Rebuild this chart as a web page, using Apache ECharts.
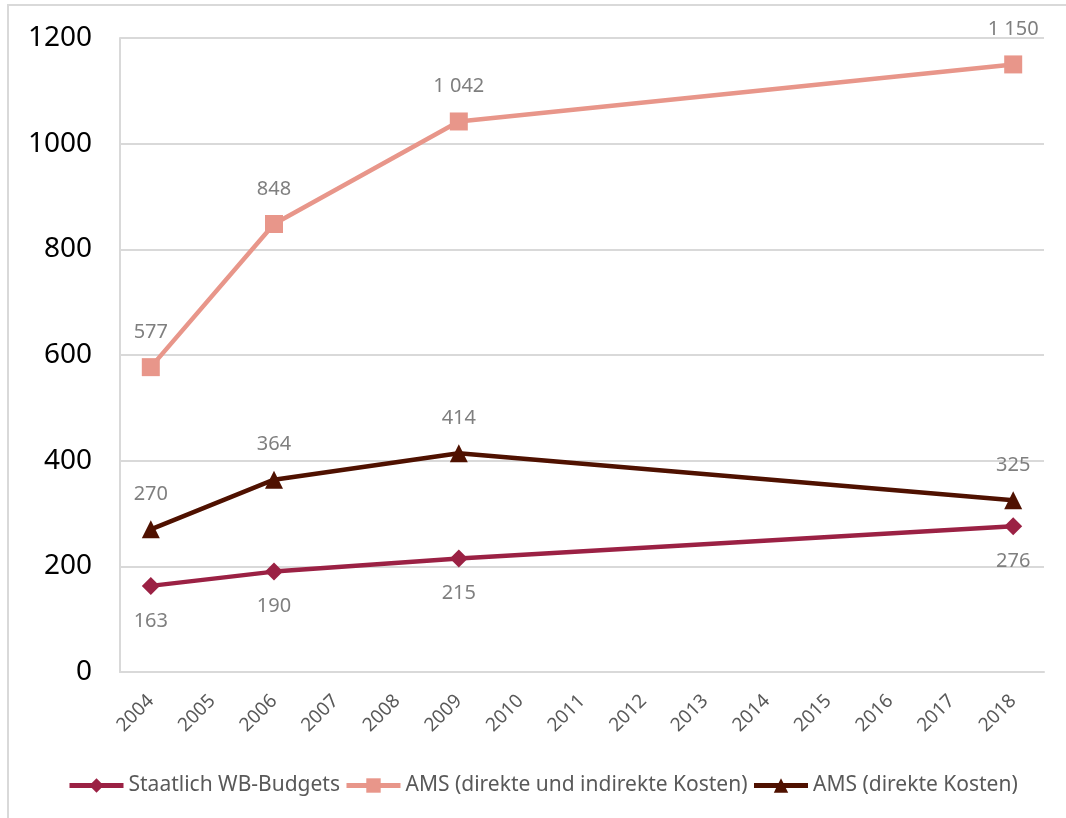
<!DOCTYPE html>
<html>
<head>
<meta charset="utf-8">
<script src="https://cdn.jsdelivr.net/npm/echarts@6/dist/echarts.min.js"></script>
<style>html,body{margin:0;padding:0;background:#fff}#c{width:1066px;height:818px}</style>
</head>
<body>
<div id="c"></div>
<script>
const years = ['2004','2005','2006','2007','2008','2009','2010','2011','2012','2013','2014','2015','2016','2017','2018'];
const staatlich = [163, null, 190, null, null, 215, null, null, null, null, null, null, null, null, 276];
const amsGesamt = [577, null, 848, null, null, 1042, null, null, null, null, null, null, null, null, 1150];
const amsDirekt = [270, null, 364, null, null, 414, null, null, null, null, null, null, null, null, 325];
const yTicks = [0, 200, 400, 600, 800, 1000, 1200];

const fmt = v => {
  const s = String(v);
  return s.length > 3 ? s.slice(0, s.length - 3) + ' ' + s.slice(-3) : s;
};
const labelStyle = (pos) => ({
  show: true, position: pos, distance: 16,
  color: '#7f7f7f', fontSize: 20, fontFamily: 'Noto Sans',
  formatter: p => fmt(p.value)
});

const chart = echarts.init(document.getElementById('c'), null, {renderer: 'canvas'});
chart.setOption({
  animation: false,
  backgroundColor: '#fff',
  graphic: [{
    type: 'rect', shape: {x: 8, y: 5, width: 1200, height: 1000},
    style: {fill: 'none', stroke: '#d9d9d9', lineWidth: 2}, silent: true, z: -1
  }],
  grid: {left: 120, right: 22, top: 38, bottom: 146},
  legend: {
    top: 770, left: 62,
    itemWidth: 54, itemHeight: 18, itemGap: 4,
    lineStyle: {width: 5},
    textStyle: {color: '#595959', fontSize: 21, fontFamily: 'Noto Sans'},
    data: ['Staatlich WB-Budgets', 'AMS (direkte und indirekte Kosten)', 'AMS (direkte Kosten)']
  },
  xAxis: {
    type: 'category', data: years, boundaryGap: true,
    axisLine: {show: true, lineStyle: {color: '#d9d9d9', width: 2}},
    axisTick: {show: false},
    axisLabel: {rotate: 45, margin: 26, color: '#595959', fontSize: 19, fontFamily: 'Noto Sans', interval: 0}
  },
  yAxis: {
    type: 'value', min: yTicks[0], max: yTicks[yTicks.length - 1], interval: 200,
    axisLine: {show: true, lineStyle: {color: '#d9d9d9', width: 2}},
    axisTick: {show: false},
    splitLine: {lineStyle: {color: '#d9d9d9', width: 2}},
    axisLabel: {color: '#000', fontSize: 28, fontFamily: 'Noto Sans', margin: 28, formatter: v => String(v)}
  },
  series: [
    {
      name: 'Staatlich WB-Budgets', type: 'line', data: staatlich, connectNulls: true,
      symbol: 'diamond', symbolSize: 18,
      itemStyle: {color: '#9b2144'}, lineStyle: {color: '#9b2144', width: 4.5},
      label: labelStyle('bottom')
    },
    {
      name: 'AMS (direkte und indirekte Kosten)', type: 'line', data: amsGesamt, connectNulls: true,
      symbol: 'rect', symbolSize: 18,
      itemStyle: {color: '#e8968a'}, lineStyle: {color: '#e8968a', width: 4.5},
      label: labelStyle('top')
    },
    {
      name: 'AMS (direkte Kosten)', type: 'line', data: amsDirekt, connectNulls: true,
      symbol: 'triangle', symbolSize: 18,
      itemStyle: {color: '#4f1100'}, lineStyle: {color: '#4f1100', width: 4.5},
      label: labelStyle('top')
    }
  ]
});
</script>
</body>
</html>
